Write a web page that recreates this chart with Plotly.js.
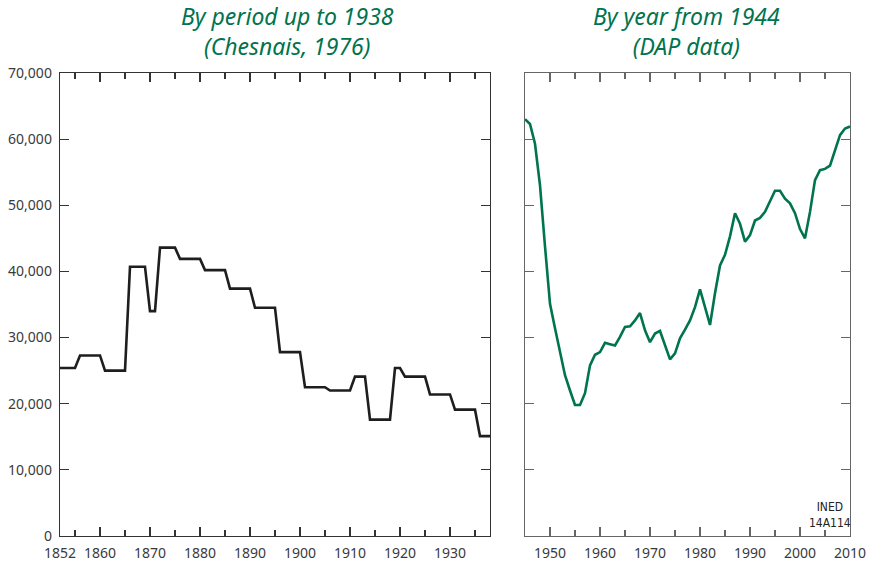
<!DOCTYPE html>
<html>
<head>
<meta charset="utf-8">
<script src="https://cdn.plot.ly/plotly-3.0.1.min.js"></script>
<style>html,body{margin:0;padding:0;background:#fff;}#chart{width:873px;height:563px;}</style>
</head>
<body>
<div id="chart"></div>
<script>
// Left panel: values by period (Chesnais, 1976)
const periodStart = [1852,1856,1861,1866,1870,1872,1876,1881,1886,1891,1896,1901,1906,1911,1914,1919,1921,1926,1931,1936];
const periodEnd   = [1855,1860,1865,1869,1871,1875,1880,1885,1890,1895,1900,1905,1910,1913,1918,1920,1925,1930,1935,1938];
const periodValue = [25400,27300,25000,40700,34000,43600,41900,40200,37400,34500,27800,22500,22000,24100,17600,25400,24100,21400,19100,15100];

// Right panel: annual values (DAP data)
const years = [1945,1946,1947,1948,1949,1950,1951,1952,1953,1954,1955,1956,1957,1958,1959,1960,1961,1962,1963,1964,1965,1966,1967,1968,1969,1970,1971,1972,1973,1974,1975,1976,1977,1978,1979,1980,1981,1982,1983,1984,1985,1986,1987,1988,1989,1990,1991,1992,1993,1994,1995,1996,1997,1998,1999,2000,2001,2002,2003,2004,2005,2006,2007,2008,2009,2010];
const annualValue = [63000,62300,59300,53000,43800,35100,31400,27600,24300,22000,19800,19800,21600,25800,27400,27800,29200,29000,28800,30100,31600,31700,32600,33700,31100,29300,30600,31000,28800,26700,27600,29900,31200,32600,34600,37300,34600,31900,36700,40900,42500,45300,48800,47200,44500,45500,47700,48100,49000,50600,52200,52200,51000,50300,48800,46400,45000,49000,53800,55300,55500,56000,58300,60600,61600,61900];

const leftTicks = [1852,1860,1870,1880,1890,1900,1910,1920,1930];
const leftMinor = [1855,1865,1875,1885,1895,1905,1915,1925,1935];
const rightTicks = [1950,1960,1970,1980,1990,2000,2010];
const rightMinor = [1955,1965,1975,1985,1995,2005];
const yTicks = [0,10000,20000,30000,40000,50000,60000,70000];

const lx = [], ly = [];
for (let i = 0; i < periodStart.length; i++) {
  lx.push(periodStart[i], periodEnd[i]);
  ly.push(periodValue[i], periodValue[i]);
}

const green = '#00734f';
const tickFont = {family: 'Noto Sans, Open Sans, sans-serif', size: 14, color: '#3a3a3a'};

const traces = [
  {x: lx, y: ly, type: 'scatter', mode: 'lines', xaxis: 'x', yaxis: 'y',
   line: {color: '#1e1e1e', width: 2.6}, hoverinfo: 'x+y'},
  {x: years, y: annualValue, type: 'scatter', mode: 'lines', xaxis: 'x2', yaxis: 'y2',
   line: {color: green, width: 2.6}, hoverinfo: 'x+y'}
];

function xaxis(domain, range, ticks, minor, col) {
  return {
    domain: domain, range: range, tickmode: 'array', tickvals: ticks,
    ticktext: ticks.map(String), ticks: 'inside', ticklen: 9, tickwidth: 1.2,
    tickcolor: col, showline: true, linecolor: col, linewidth: 1.3, mirror: 'ticks',
    showgrid: false, zeroline: false, tickfont: tickFont, ticklabelstandoff: 4,
    minor: {tickmode: 'array', tickvals: minor, ticks: 'inside', ticklen: 6, tickwidth: 1.2, tickcolor: col, showgrid: false},
    fixedrange: true
  };
}
function yaxis(anchor, showLabels, col) {
  return {
    domain: [27/563, 490/563], range: [0, 70000], anchor: anchor,
    tickmode: 'array', tickvals: yTicks, ticktext: yTicks.map(v => v.toLocaleString('en-US')),
    showticklabels: showLabels, ticks: 'inside', ticklen: 9, tickwidth: 1.2, tickcolor: col,
    showline: true, linecolor: col, linewidth: 1.3, mirror: 'ticks',
    showgrid: false, zeroline: false, tickfont: tickFont, ticklabelstandoff: 4,
    fixedrange: true
  };
}

const titleFont = {family: 'Noto Sans, Open Sans, sans-serif', size: 23, color: green, style: 'italic'};

const layout = {
  width: 873, height: 563,
  margin: {l: 0, r: 0, t: 0, b: 0},
  paper_bgcolor: '#fff', plot_bgcolor: '#fff',
  showlegend: false,
  xaxis: Object.assign(xaxis([60/873, 490/873], [1852, 1938], leftTicks, leftMinor, '#333'), {anchor: 'y'}),
  yaxis: yaxis('x', true, '#333'),
  xaxis2: Object.assign(xaxis([525/873, 850/873], [1945, 2010], rightTicks, rightMinor, '#666'), {anchor: 'y2'}),
  yaxis2: yaxis('x2', false, '#666'),
  annotations: [
    {text: 'By period up to 1938<br>(Chesnais, 1976)', xref: 'paper', yref: 'paper',
     x: 287/873, y: 1 - 31/563, xanchor: 'center', yanchor: 'middle', showarrow: false, font: titleFont},
    {text: 'By year from 1944<br>(DAP data)', xref: 'paper', yref: 'paper',
     x: 686/873, y: 1 - 31/563, xanchor: 'center', yanchor: 'middle', showarrow: false, font: titleFont},
    {text: 'INED<br>14A114', xref: 'paper', yref: 'paper',
     x: 830/873, y: 1 - 515/563, xanchor: 'center', yanchor: 'middle', showarrow: false,
     font: {family: 'Liberation Sans Narrow, DejaVu Sans Condensed, sans-serif', size: 12, color: '#222'}}
  ]
};

Plotly.newPlot('chart', traces, layout, {displayModeBar: false, staticPlot: true});
</script>
</body>
</html>
